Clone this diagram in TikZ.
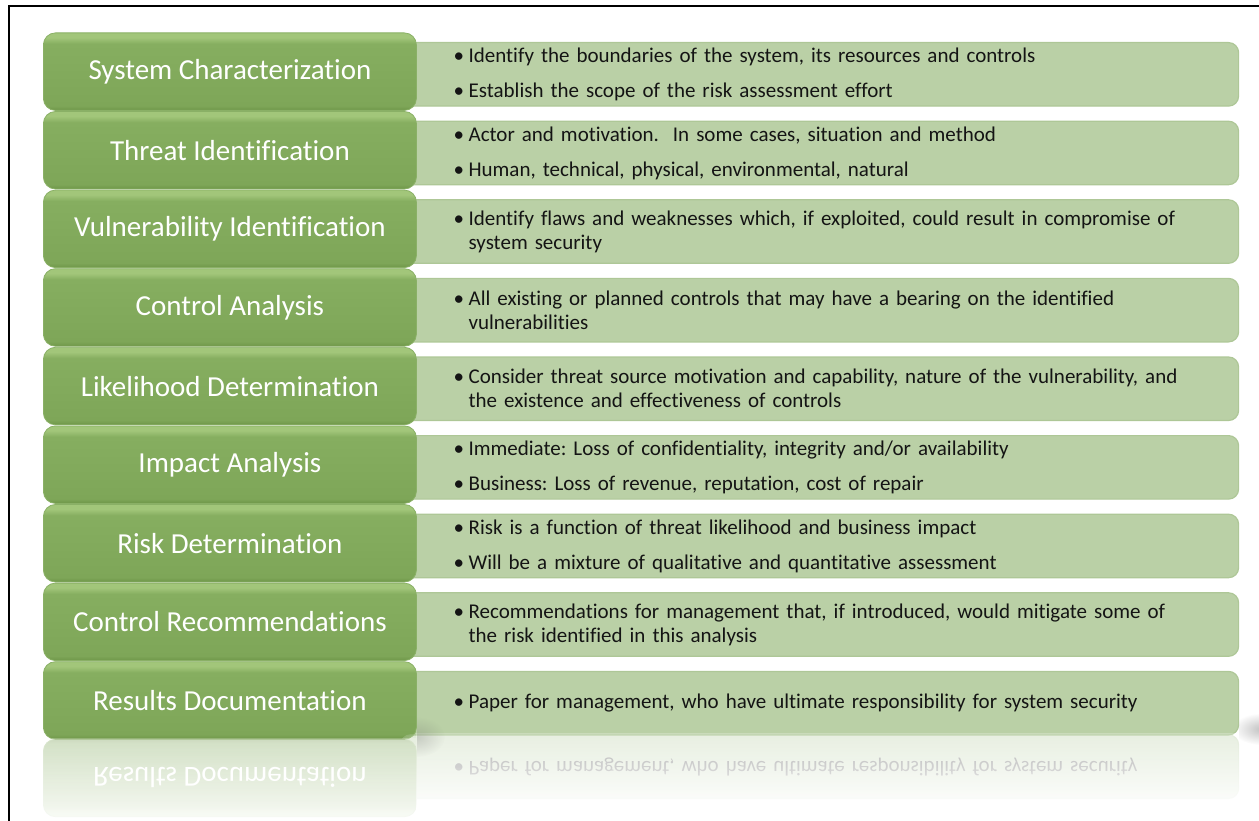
\documentclass[tikz,border=0pt]{standalone}
\usepackage{fontspec}
\setmainfont{Carlito}[Ligatures=NoCommon]
\usepackage{graphicx}
\usetikzlibrary{fadings}

\definecolor{riskcolor0000}{RGB}{110,150,72}
\definecolor{riskcolor0001}{RGB}{126,166,88}
\definecolor{riskcolor0002}{RGB}{134,174,96}
\definecolor{riskcolor0003}{RGB}{162,198,122}
\definecolor{riskcolor0004}{RGB}{186,208,166}
\definecolor{riskcolor0005}{RGB}{174,199,151}
\definecolor{riskcolor0006}{RGB}{138,176,102}
\definecolor{riskcolor0007}{RGB}{20,20,20}
\definecolor{riskcolor0008}{RGB}{100,100,100}

% green bevel of the stage boxes (bottom edge, body, lit top edge)
\pgfdeclareverticalshading{stageshade}{100bp}{color(0bp)=(riskcolor0000); color(25bp)=(riskcolor0000); color(28bp)=(riskcolor0001); color(68bp)=(riskcolor0002); color(72bp)=(riskcolor0003); color(75bp)=(riskcolor0003); color(100bp)=(riskcolor0003)}
\tikzfading[name=softspot,inner color=transparent!0,outer color=transparent!100]

\newcommand\riskbullet[1]{\noindent\hangindent=15pt\hangafter=1\makebox[15pt][l]{\textbullet}#1\par}
\frenchspacing

\begin{document}
\begin{tikzpicture}[yscale=-1
                ,rstyle1/.style={color=black,line width=2.4pt}
                ,rstyle2/.style={shade,shading=stageshade,draw=riskcolor0006,line width=0.8pt,rounded corners=12pt,anchor=north west,minimum width=373pt,minimum height=77.5pt,inner sep=0pt,text=white,font=\fontsize{29pt}{33pt}\selectfont}
                ,rstyle3/.style={fill=riskcolor0004,draw=riskcolor0005,line width=1.2pt,rounded corners=10pt,anchor=north west,minimum width=838pt,minimum height=63.5pt,inner xsep=53pt,inner ysep=0pt,text width=732pt,text=riskcolor0007,font=\fontsize{21pt}{24pt}\selectfont}
                ,rstyle4/.style={fill=riskcolor0008,opacity=0.4,path fading=softspot}
            ]
            \useasboundingbox (0pt,0pt) rectangle (1259pt,821pt);
            \draw[rstyle1] (9pt,822pt) -- (9pt,6pt) -- (1260pt,6pt);
            \node[rstyle3] (sysnote) at (400pt,42pt) {\riskbullet{Identify the boundaries of the system, its resources and controls}\vskip11pt\riskbullet{Establish the scope of the risk assessment effort}};
            \node[rstyle2] (sys) at (43pt,32.5pt) {System Characterization};
            \node[rstyle3] (threatnote) at (400pt,120.6pt) {\riskbullet{Actor and motivation.\ \ In some cases, situation and method}\vskip11pt\riskbullet{Human, technical, physical, environmental, natural}};
            \node[rstyle2] (threat) at (43pt,111.1pt) {Threat Identification};
            \node[rstyle3] (vulnnote) at (400pt,199.2pt) {\riskbullet{Identify flaws and weaknesses which, if exploited, could result in compromise of\newline system security}};
            \node[rstyle2] (vuln) at (43pt,189.7pt) {Vulnerability Identification};
            \node[rstyle3] (ctrlnote) at (400pt,277.8pt) {\riskbullet{All existing or planned controls that may have a bearing on the identified\newline vulnerabilities}};
            \node[rstyle2] (ctrl) at (43pt,268.3pt) {Control Analysis};
            \node[rstyle3] (likenote) at (400pt,356.4pt) {\riskbullet{Consider threat source motivation and capability, nature of the vulnerability, and\newline the existence and effectiveness of controls}};
            \node[rstyle2] (like) at (43pt,346.9pt) {Likelihood Determination};
            \node[rstyle3] (impactnote) at (400pt,435pt) {\riskbullet{Immediate: Loss of confidentiality, integrity and/or availability}\vskip11pt\riskbullet{Business: Loss of revenue, reputation, cost of repair}};
            \node[rstyle2] (impact) at (43pt,425.5pt) {Impact Analysis};
            \node[rstyle3] (risknote) at (400pt,513.6pt) {\riskbullet{Risk is a function of threat likelihood and business impact}\vskip11pt\riskbullet{Will be a mixture of qualitative and quantitative assessment}};
            \node[rstyle2] (risk) at (43pt,504.1pt) {Risk Determination};
            \node[rstyle3] (recnote) at (400pt,592.2pt) {\riskbullet{Recommendations for management that, if introduced, would mitigate some of\newline the risk identified in this analysis}};
            \node[rstyle2] (rec) at (43pt,582.7pt) {Control Recommendations};
            \node[rstyle3] (docnote) at (400pt,670.8pt) {\riskbullet{Paper for management, who have ultimate responsibility for system security}};
            \node[rstyle2] (doc) at (43pt,661.3pt) {Results Documentation};
            % mirror image under the last row
            \begin{scope}[transparency group,opacity=0.45]
            \node[rstyle3] (docnotemirror) at (400pt,734.3pt) {\noindent\scalebox{1}[-1]{\makebox[15pt][l]{\textbullet}Paper for management, who have ultimate responsibility for system security}};
            \node[rstyle2,shading angle=180] (docmirror) at (43pt,738.8pt) {\scalebox{1}[-1]{Results Documentation}};
            \end{scope}
            \begin{scope}
            \clip (416pt,733.5pt) rectangle (1259pt,821pt);
            \fill[white,path fading=north] (416pt,708pt) rectangle (1259pt,812pt);
            \end{scope}
            \begin{scope}
            \clip (20pt,738.8pt) rectangle (416pt,821pt);
            \fill[white,path fading=north] (20pt,708pt) rectangle (416pt,840pt);
            \end{scope}
            % soft shadows beside the last row
            \begin{scope}
            \clip (1239pt,700pt) rectangle (1259pt,760pt);
            \fill[rstyle4] (1262pt,729pt) ellipse (30pt and 16pt);
            \end{scope}
            \begin{scope}
            \clip (417pt,715pt) rectangle (445pt,760pt);
            \fill[rstyle4,opacity=0.25] (417pt,737pt) ellipse (28pt and 20pt);
            \end{scope}
        \end{tikzpicture}
\end{document}
